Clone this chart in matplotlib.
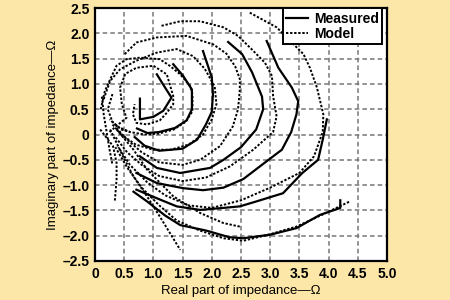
import matplotlib
matplotlib.use("Agg")
import matplotlib.pyplot as plt

plt.rcParams['font.family'] = ['Liberation Sans Narrow', 'Liberation Sans', 'DejaVu Sans']
plt.rcParams['font.weight'] = 'bold'

# measured curves (solid), (x, y) in ohms
measured = [
    [(0.77, 0.71), (0.77, 0.30), (1.0, 0.35), (1.17, 0.47), (1.31, 0.73), (1.2, 0.93), (1.06, 1.19)],
    [(1.34, 1.39), (1.51, 1.16), (1.66, 0.89), (1.66, 0.50), (1.57, 0.28), (1.37, 0.13), (1.1, 0.05),
     (0.9, 0.03), (0.72, 0.12)],
    [(1.85, 1.65), (2.0, 1.13), (2.02, 0.8), (2.0, 0.45), (1.9, 0.2), (1.75, -0.1), (1.5, -0.28),
     (1.1, -0.32), (0.85, -0.22), (0.68, -0.05)],
    [(2.28, 1.83), (2.52, 1.59), (2.69, 1.23), (2.86, 0.75), (2.88, 0.5), (2.76, 0.1), (2.5, -0.25),
     (2.2, -0.5), (1.97, -0.66), (1.46, -0.76), (1.06, -0.66), (0.77, -0.43)],
    [(2.94, 1.85), (3.14, 1.32), (3.37, 0.93), (3.48, 0.66), (3.45, 0.4), (3.36, 0.05), (3.2, -0.3),
     (2.88, -0.58), (2.54, -0.88), (2.2, -1.05), (1.85, -1.1), (1.51, -1.06), (1.06, -0.96), (0.71, -0.76)],
    [(3.97, 0.3), (3.9, -0.1), (3.82, -0.5), (3.55, -0.76), (3.22, -1.16), (2.77, -1.32), (2.48, -1.42),
     (2.2, -1.45), (1.8, -1.49), (1.4, -1.42), (1.06, -1.26), (0.71, -1.09)],
    [(4.2, -1.3), (4.2, -1.45), (3.85, -1.59), (3.45, -1.85), (3.0, -1.98), (2.54, -2.05), (2.3, -2.03),
     (1.91, -1.9), (1.46, -1.79), (1.2, -1.6), (0.89, -1.32), (0.66, -1.13)],
]

# model curves (dotted)
model = [
    [(0.25, 0.05), (0.4, 0.2), (0.54, 0.33), (0.46, 0.6), (0.43, 0.93), (0.52, 1.2), (0.71, 1.32),
     (1.0, 1.36), (1.23, 1.19), (1.34, 0.76), (1.34, 0.6), (1.23, 0.43), (1.11, 0.28), (0.89, 0.2),
     (0.71, 0.23), (0.65, 0.4), (0.68, 0.6)],
    [(0.1, 0.5), (0.17, 0.86), (0.26, 1.09), (0.37, 1.36), (0.54, 1.49), (0.77, 1.52), (1.11, 1.49),
     (1.28, 1.36), (1.46, 1.19), (1.63, 0.96), (1.67, 0.79), (1.67, 0.46), (1.55, 0.25), (1.35, 0.1),
     (1.1, 0.02), (0.85, 0.0), (0.6, 0.05), (0.4, 0.15), (0.25, 0.3)],
    [(0.15, 0.7), (0.26, 1.06), (0.43, 1.29), (0.71, 1.46), (1.06, 1.62), (1.4, 1.69), (1.68, 1.55),
     (1.88, 1.3), (2.05, 0.95), (2.08, 0.6), (2.0, 0.3), (1.85, 0.0), (1.6, -0.2), (1.3, -0.3),
     (1.0, -0.3), (0.7, -0.2), (0.45, 0.0), (0.3, 0.2)],
    [(0.51, 1.59), (0.71, 1.82), (1.06, 1.92), (1.57, 1.95), (2.03, 1.78), (2.25, 1.6), (2.4, 1.35),
     (2.48, 1.1), (2.48, 0.89), (2.45, 0.5), (2.36, 0.16), (2.14, -0.23), (1.8, -0.5), (1.5, -0.6),
     (1.1, -0.55), (0.8, -0.35), (0.55, -0.1), (0.35, 0.15)],
    [(1.14, 2.15), (1.46, 2.24), (1.8, 2.24), (2.2, 2.12), (2.45, 1.95), (2.68, 1.69), (2.91, 1.42),
     (3.03, 1.16), (3.05, 0.76), (3.11, 0.36), (3.05, 0.05), (2.71, -0.3), (2.31, -0.63), (1.9, -0.85),
     (1.5, -0.92), (1.1, -0.82), (0.8, -0.6), (0.55, -0.35), (0.35, -0.05)],
    [(2.65, 2.41), (3.11, 2.12), (3.57, 1.59), (3.68, 1.32), (3.8, 0.93), (3.91, 0.4), (3.9, 0.05),
     (3.75, -0.43), (3.5, -0.76), (3.0, -1.05), (2.5, -1.3), (2.0, -1.45), (1.6, -1.4), (1.2, -1.2),
     (0.9, -0.95), (0.6, -0.6), (0.4, -0.25)],
    [(4.35, -1.33), (3.9, -1.58), (3.45, -1.82), (3.0, -1.97), (2.54, -2.1), (2.2, -2.05), (1.8, -1.9),
     (1.4, -1.7), (1.1, -1.4), (0.8, -1.05), (0.55, -0.65), (0.35, -0.25)],
    [(0.37, 0.1), (0.66, -0.3), (0.89, -0.69), (1.34, -1.22), (1.8, -1.55), (2.2, -1.75), (2.48, -1.82)],
    [(0.26, 0.1), (0.48, -0.43), (0.66, -0.83), (0.89, -1.22), (1.11, -1.62), (1.46, -2.28)],
    [(0.09, 0.1), (0.31, -0.23), (0.37, -0.56), (0.37, -0.89), (0.34, -1.32)],
    [(0.12, 0.75), (0.15, 0.4), (0.2, 0.05), (0.25, -0.3), (0.3, -0.6)],
    [(0.3, 0.8), (0.22, 0.5), (0.3, 0.25), (0.45, 0.1), (0.6, 0.05)],
]

x_ticks = [0, 0.5, 1.0, 1.5, 2.0, 2.5, 3.0, 3.5, 4.0, 4.5, 5.0]
x_labels = ['0', '0.5', '1.0', '1.5', '2.0', '2.5', '3.0', '3.5', '4.0', '4.5', '5.0']
y_ticks = [2.5, 2.0, 1.5, 1.0, 0.5, 0, -0.5, -1.0, -1.5, -2.0, -2.5]
y_labels = ['2.5', '2.0', '1.5', '1.0', '0.5', '0', '\u20130.5', '\u20131.0', '\u20131.5', '\u20132.0', '\u20132.5']

bg = '#FCE7A8'
fig = plt.figure(figsize=(4.5, 3), dpi=100, facecolor=bg)
ax = fig.add_axes([0.211, 0.13, 0.649, 0.843])

for i, curve in enumerate(model):
    xs = [p[0] for p in curve]
    ys = [p[1] for p in curve]
    ax.plot(xs, ys, color='black', linewidth=1.4, linestyle=(0, (1.2, 0.9)),
            label='Model' if i == 0 else None)

for i, curve in enumerate(measured):
    xs = [p[0] for p in curve]
    ys = [p[1] for p in curve]
    ax.plot(xs, ys, color='black', linewidth=1.6, linestyle='-',
            label='Measured' if i == 0 else None)

ax.set_xlim(0, 5)
ax.set_ylim(-2.5, 2.5)
ax.set_xticks(x_ticks)
ax.set_xticklabels(x_labels)
ax.set_yticks(y_ticks)
ax.set_yticklabels(y_labels)
ax.tick_params(length=0, labelsize=10, pad=4)
ax.grid(True, color='#777777', linestyle=(0, (3, 2)), linewidth=1.1)
ax.set_axisbelow(True)
for s in ax.spines.values():
    s.set_linewidth(1.6)

ax.set_xlabel('Real part of impedance\u2014\u03a9', fontsize=9.5, labelpad=3)
ax.set_ylabel('Imaginary part of impedance\u2014\u03a9', fontsize=9.5, labelpad=2)

h, l = ax.get_legend_handles_labels()
order = [l.index('Measured'), l.index('Model')]
leg = ax.legend([h[k] for k in order], [l[k] for k in order], loc='upper right',
                fontsize=10, fancybox=False, framealpha=1, edgecolor='black',
                borderpad=0.25, handlelength=1.6, handletextpad=0.4, labelspacing=0.1,
                borderaxespad=0, bbox_to_anchor=(0.984, 1.0))
leg.get_frame().set_linewidth(1.4)

fig.savefig('out.png', dpi=100, facecolor=bg)
